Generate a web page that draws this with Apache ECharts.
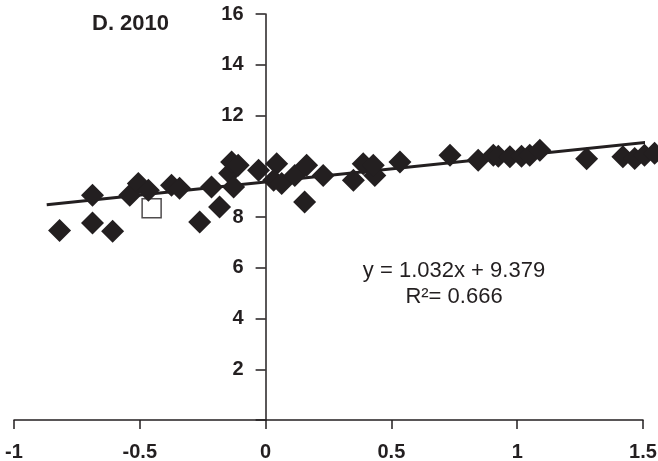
<!DOCTYPE html>
<html>
<head>
<meta charset="utf-8">
<script src="https://cdn.jsdelivr.net/npm/echarts@6/dist/echarts.min.js"></script>
<style>html,body{margin:0;padding:0;background:#fff;}#c{width:658px;height:461px;}</style>
</head>
<body>
<div id="c"></div>
<script>
var titleText = "D. 2010";
var xTicks = [-1, -0.5, 0, 0.5, 1, 1.5];
var yTicks = [2, 4, 6, 8, 10, 12, 14, 16];
var pointX = [-0.819,-0.688,-0.688,-0.608,-0.54,-0.506,-0.466,-0.374,-0.342,-0.262,-0.215,-0.183,-0.143,-0.135,-0.109,-0.127,-0.028,0.044,0.032,0.064,0.116,0.163,0.155,0.229,0.349,0.388,0.434,0.428,0.534,0.733,0.845,0.905,0.925,0.971,1.017,1.05,1.09,1.276,1.42,1.467,1.506,1.546];
var pointY = [7.47,8.86,7.76,7.44,8.86,9.32,9.05,9.25,9.13,7.80,9.18,8.39,9.72,10.17,10.04,9.18,9.84,10.1,9.45,9.32,9.64,10.04,8.59,9.64,9.45,10.1,9.64,10.04,10.17,10.43,10.24,10.43,10.39,10.37,10.39,10.43,10.63,10.3,10.37,10.31,10.43,10.51];
var openX = [-0.453];
var openY = [8.34];
var slope = 1.032, intercept = 9.379, r2 = 0.666;
var trendRange = [-0.87, 1.55];

var ink = '#231f20';
var font = '"Liberation Sans", Arial, sans-serif';
var W = 658, gridLeft = 14, gridRight = 15;
var xMin = -1, xMax = 1.5;
var gridW = W - gridLeft - gridRight;
var yAxisOffset = -gridW * (0 - xMin) / (xMax - xMin);
var chart = echarts.init(document.getElementById('c'));
var pts = pointX.map(function(x,i){return [x, pointY[i]];});
var open = openX.map(function(x,i){return [x, openY[i]];});
var trend = trendRange.map(function(x){return [x, slope*x+intercept];});
chart.setOption({
  animation:false,
  backgroundColor:'#fff',
  title:{text:titleText,left:87,top:8,textStyle:{fontFamily:font,fontWeight:'bold',fontSize:22,color:ink}},
  grid:{left:gridLeft,right:gridRight,top:14,bottom:41,outerBoundsMode:'none',containLabel:false},
  xAxis:{type:'value',min:xMin,max:xMax,interval:0.5,
    axisLine:{onZero:true,lineStyle:{color:ink,width:1.5}},
    axisTick:{show:true,length:9,lineStyle:{color:ink,width:1.5}},
    axisLabel:{margin:22,fontFamily:font,fontWeight:'bold',fontSize:20,color:ink,
      formatter:function(v){return xTicks.indexOf(v)>=0?String(v):'';}},
    splitLine:{show:false}},
  yAxis:{type:'value',min:0,max:16,interval:2,offset:yAxisOffset,
    axisLine:{show:true,onZero:false,lineStyle:{color:ink,width:1.5}},
    axisTick:{show:true,length:10,lineStyle:{color:ink,width:1.5}},
    axisLabel:{margin:22,fontFamily:font,fontWeight:'bold',fontSize:20,color:ink,
      formatter:function(v){return yTicks.indexOf(v)>=0?String(v):'';}},
    splitLine:{show:false}},
  graphic:[
    {type:'text',x:454,y:271,style:{text:'y = '+slope.toFixed(3)+'x + '+intercept.toFixed(3),fontFamily:font,fontSize:22,fill:ink,textAlign:'center',textVerticalAlign:'middle'}},
    {type:'text',x:454,y:297,style:{text:'R\u00b2= '+r2.toFixed(3),fontFamily:font,fontSize:22,fill:ink,textAlign:'center',textVerticalAlign:'middle'}}
  ],
  series:[
    {type:'scatter',data:open,symbol:'rect',symbolSize:19,clip:false,z:3,
      itemStyle:{color:'#fff',borderColor:ink,borderWidth:1.5}},
    {type:'line',data:trend,symbol:'none',clip:false,z:4,lineStyle:{color:ink,width:3}},
    {type:'scatter',data:pts,symbol:'diamond',symbolSize:23,clip:false,z:5,
      itemStyle:{color:ink,opacity:1}}
  ]
});
</script>
</body>
</html>
